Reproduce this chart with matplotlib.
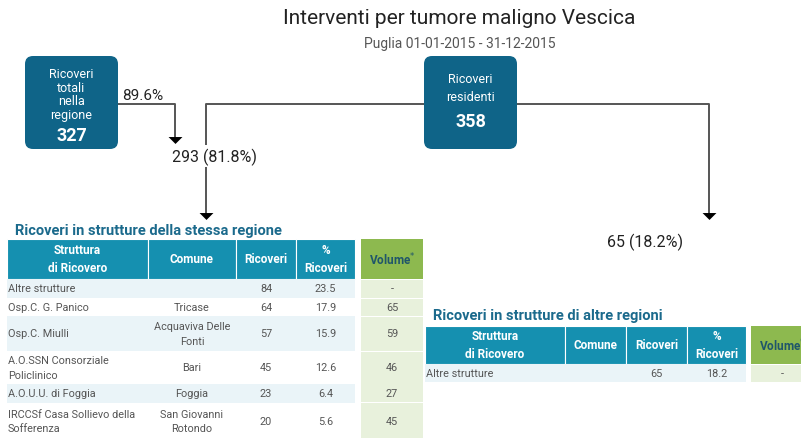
import matplotlib
matplotlib.use("Agg")
import matplotlib.pyplot as plt
from matplotlib.patches import FancyBboxPatch, Rectangle

plt.rcParams['font.family'] = ['Roboto', 'DejaVu Sans']

title = "Interventi per tumore maligno Vescica"
subtitle = "Puglia 01-01-2015 - 31-12-2015"
box1_label = "Ricoveri\ntotali\nnella\nregione"
box1_value = 327
box2_label = "Ricoveri\nresidenti"
box2_value = 358
pct_in_region = "89.6%"
same_region_n = 293
same_region_pct = 81.8
other_region_n = 65
other_region_pct = 18.2

table1_title = "Ricoveri in strutture della stessa regione"
table2_title = "Ricoveri in strutture di altre regioni"
headers = ["Struttura\ndi Ricovero", "Comune", "Ricoveri", "%\nRicoveri"]
volume_header = "Volume"

t1_struttura = ["Altre strutture", "Osp.C. G. Panico", "Osp.C. Miulli",
                "A.O.SSN Consorziale\nPoliclinico", "A.O.U.U. di Foggia",
                "IRCCSf Casa Sollievo della\nSofferenza"]
t1_comune = ["", "Tricase", "Acquaviva Delle\nFonti", "Bari", "Foggia",
             "San Giovanni\nRotondo"]
t1_ricoveri = [84, 64, 57, 45, 23, 20]
t1_pct = [23.5, 17.9, 15.9, 12.6, 6.4, 5.6]
t1_volume = ["-", "65", "59", "46", "27", "45"]

t2_struttura = ["Altre strutture"]
t2_comune = [""]
t2_ricoveri = [65]
t2_pct = [18.2]
t2_volume = ["-"]

BOX = "#0f6488"
HEAD = "#1590b0"
GREEN_H = "#8db94f"
GREEN_C = "#e8f1dc"
ALT = "#eaf4f8"
LINE = "#555555"
TXT = "#555555"

fig = plt.figure(figsize=(8.01, 4.39), dpi=100)
ax = fig.add_axes([0, 0, 1, 1])
ax.set_xlim(0, 801)
ax.set_ylim(439, 0)
ax.axis("off")

ax.text(459, 18, title, ha="center", va="center", fontsize=15, color="#222222")
ax.text(460, 44, subtitle, ha="center", va="center", fontsize=10, color="#555555")

def box(x0, x1, y0, y1):
    ax.add_patch(FancyBboxPatch((x0 + 8, y0 + 8), x1 - x0 - 16, y1 - y0 - 16,
                                boxstyle="round,pad=8", fc=BOX, ec="none", zorder=3))

box(25, 118, 57, 150)
ax.text(71.5, 95, box1_label, ha="center", va="center", fontsize=9, color="white",
        linespacing=1.05, zorder=4)
ax.text(71.5, 136, str(box1_value), ha="center", va="center", fontsize=13,
        color="white", fontweight="bold", zorder=4)
box(424, 517, 57, 150)
ax.text(470.5, 88.5, box2_label, ha="center", va="center", fontsize=9, color="white",
        linespacing=1.55, zorder=4)
ax.text(470.5, 122, str(box2_value), ha="center", va="center", fontsize=13,
        color="white", fontweight="bold", zorder=4)

lw = 1.4
ax.plot([118, 175, 175], [105, 105, 138], color=LINE, lw=lw, zorder=2)
ax.plot([424, 206, 206], [105, 105, 214], color=LINE, lw=lw, zorder=2)
ax.plot([517, 709, 709], [105, 105, 214], color=LINE, lw=lw, zorder=2)
tri = [(-1, 0.5), (1, 0.5), (0, -0.5), (-1, 0.5)]
for (x, y) in [(175, 140.5), (206, 216.5), (709, 216.5)]:
    ax.plot([x], [y], marker=tri, markersize=10, color="black", mew=0, zorder=3)

ax.text(122, 96, pct_in_region, ha="left", va="center", fontsize=11, color="#222222")
ax.text(215, 157, f"{same_region_n} ({same_region_pct}%)", ha="center", va="center",
        fontsize=11.5, color="#222222", zorder=4,
        bbox=dict(fc="white", ec="none", pad=2))
ax.text(645, 242, f"{other_region_n} ({other_region_pct}%)", ha="center", va="center",
        fontsize=11.5, color="#222222", zorder=4)


def table(x_edges, vol_edges, head_y, row_edges, title_xy, title_txt,
          strutture, comuni, ricoveri, pct, volume):
    ax.text(title_xy[0], title_xy[1], title_txt, ha="left", va="center", fontsize=10.5,
            fontweight="bold", color="#1b6a8c")
    y0, y1 = head_y
    for i in range(4):
        ax.add_patch(Rectangle((x_edges[i], y0), x_edges[i + 1] - x_edges[i], y1 - y0,
                               fc=HEAD, ec="white", lw=0.8))
        ax.text((x_edges[i] + x_edges[i + 1]) / 2, (y0 + y1) / 2, headers[i],
                ha="center", va="center", fontsize=8.5, fontweight="bold",
                color="white", linespacing=1.5)
    ax.add_patch(Rectangle((vol_edges[0], y0), vol_edges[1] - vol_edges[0], y1 - y0,
                           fc=GREEN_H, ec="none"))
    ax.text((vol_edges[0] + vol_edges[1]) / 2, (y0 + y1) / 2, volume_header + "$^{*}$",
            ha="center", va="center", fontsize=8.5, fontweight="bold", color="#20566a")
    for r in range(len(strutture)):
        ra, rb = row_edges[r], row_edges[r + 1]
        fc = ALT if r % 2 == 0 else "white"
        ax.add_patch(Rectangle((x_edges[0], ra), x_edges[-1] - x_edges[0], rb - ra,
                               fc=fc, ec="none"))
        ax.add_patch(Rectangle((vol_edges[0], ra + 0.5), vol_edges[1] - vol_edges[0],
                               rb - ra - 1, fc=GREEN_C, ec="none"))
        ym = (ra + rb) / 2
        ax.text(x_edges[0] + 1, ym, strutture[r], ha="left", va="center", fontsize=7.8,
                color=TXT, linespacing=1.6)
        ax.text((x_edges[1] + x_edges[2]) / 2, ym, comuni[r], ha="center", va="center",
                fontsize=7.8, color=TXT, linespacing=1.6)
        ax.text((x_edges[2] + x_edges[3]) / 2, ym, str(ricoveri[r]), ha="center",
                va="center", fontsize=7.8, color=TXT)
        ax.text((x_edges[3] + x_edges[4]) / 2, ym, f"{pct[r]}", ha="center",
                va="center", fontsize=7.8, color=TXT)
        ax.text((vol_edges[0] + vol_edges[1]) / 2, ym, volume[r], ha="center",
                va="center", fontsize=7.8, color=TXT)


table([7, 148, 236, 296, 355], [361, 423], (240, 280),
      [280, 299, 317, 352, 385, 404, 440], (15, 231), table1_title,
      t1_struttura, t1_comune, t1_ricoveri, t1_pct, t1_volume)
table([425, 565, 626, 687, 746], [751, 813], (327, 365),
      [365, 383], (433, 316), table2_title,
      t2_struttura, t2_comune, t2_ricoveri, t2_pct, t2_volume)

fig.savefig("out.png", dpi=100)
